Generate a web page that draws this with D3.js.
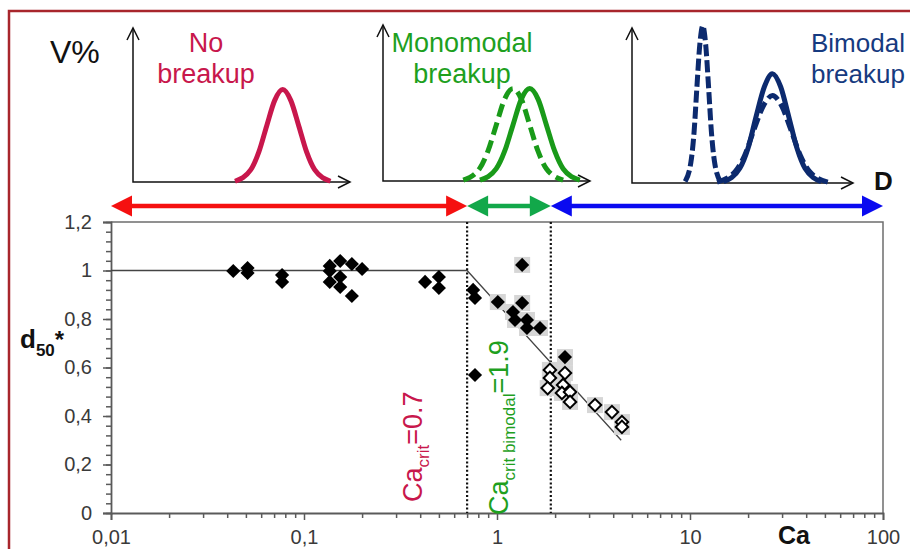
<!DOCTYPE html>
<html>
<head>
<meta charset="utf-8">
<script src="https://cdn.jsdelivr.net/npm/d3@7"></script>
<style>
  body { margin: 0; background: #fff; }
  svg { display: block; font-family: "Liberation Sans", Arial, sans-serif; }
</style>
</head>
<body>
<svg id="chart" width="910" height="549"></svg>
<script>
// ---- data ----
// no breakup, black filled diamonds [Ca, d50*]
const filledPlain = [
  [0.043, 0.998], [0.051, 1.01], [0.051, 0.99], [0.077, 0.981], [0.077, 0.953],
  [0.136, 1.019], [0.136, 0.998], [0.136, 0.953], [0.154, 1.039], [0.154, 0.973],
  [0.154, 0.932], [0.177, 1.027], [0.177, 0.895], [0.2, 1.006], [0.424, 0.953],
  [0.5, 0.973], [0.5, 0.928], [0.752, 0.92], [0.769, 0.887], [0.769, 0.569]
];
// monomodal breakup, filled with grey error box
const filledShaded = [
  [1.35, 1.023], [1.01, 0.870], [1.35, 0.866], [1.21, 0.829], [1.24, 0.796],
  [1.43, 0.796], [1.43, 0.763], [1.67, 0.763], [2.25, 0.643]
];
// bimodal breakup, open diamonds
const openShaded = [
  [1.88, 0.590], [1.88, 0.557], [1.83, 0.515], [2.25, 0.577], [2.2, 0.528],
  [2.17, 0.495], [2.39, 0.499], [2.39, 0.458], [3.22, 0.445], [3.94, 0.416],
  [4.44, 0.375], [4.44, 0.355]
];
const fitLine = [[0.01, 1], [0.7, 1], [4.4, 0.30]];
const critValues = [0.7, 1.9];
const regimes = [
  { from: 0.01, to: 0.7, color: "#f51010" },
  { from: 0.7, to: 1.9, color: "#12a84a" },
  { from: 1.9, to: 100, color: "#0a0af0" }
];
const yTicks = [0, 0.2, 0.4, 0.6, 0.8, 1, 1.2];
const xTicks = [0.01, 0.1, 1, 10, 100];

// schematic size distributions [D, V%] (arbitrary units 0..10)
const noBreakupCurve = [[4.7,0.05],[5.43,0.8],[5.8,1.95],[6.16,3.64],[6.53,5.3],[6.9,6.0],[7.27,5.3],[7.64,3.64],[8.0,1.95],[8.37,0.8],[9.1,0.05]];
const monoDashed = [[3.7,0.05],[4.45,0.8],[4.84,1.95],[5.22,3.64],[5.6,5.3],[5.99,6.0],[6.38,5.3],[6.76,3.64],[7.14,1.95],[7.53,0.8],[8.3,0.05]];
const monoSolid = [[4.47,0.05],[5.22,0.8],[5.61,1.95],[5.99,3.64],[6.37,5.3],[6.76,6.0],[7.15,5.3],[7.53,3.64],[7.91,1.95],[8.3,0.8],[9.07,0.05]];
const biNarrowDashed = [[2.45,0.1],[2.72,1.4],[2.86,3.3],[2.99,6.2],[3.125,9.0],[3.26,10.2],[3.395,9.0],[3.53,6.2],[3.66,3.3],[3.8,1.4],[4.07,0.1]];
const biSolid = [[4.22,0.08],[4.97,0.96],[5.35,2.27],[5.72,4.33],[6.1,6.25],[6.47,7.1],[6.85,6.25],[7.22,4.33],[7.6,2.27],[7.97,0.96],[8.72,0.08]];
const biDashed = [[3.92,0.06],[4.77,0.77],[5.2,1.82],[5.62,3.46],[6.05,5.0],[6.47,5.68],[6.9,5.0],[7.32,3.46],[7.75,1.82],[8.17,0.77],[9.02,0.06]];

const crimson = "#c8174c", green = "#1ea01e", navy = "#0c2a6e";

const svg = d3.select("#chart");

// outer frame (right and bottom edges fall outside the picture)
svg.append("rect").attr("x", 9).attr("y", 11).attr("width", 960).attr("height", 600)
  .attr("fill", "none").attr("stroke", "#a8262c").attr("stroke-width", 2.5);

// ---- mini distribution panels ----
const panels = [
  { x0: 133, x1: 350, top: 28, base: 182,
    curves: [{ data: noBreakupCurve, color: crimson, dash: null }] },
  { x0: 383, x1: 590, top: 25, base: 181,
    curves: [{ data: monoSolid, color: "#199a19", dash: null },
             { data: monoDashed, color: "#199a19", dash: "13,6" }] },
  { x0: 632, x1: 853, top: 28, base: 183,
    curves: [{ data: biSolid, color: navy, dash: null },
             { data: biDashed, color: navy, dash: "12,5" },
             { data: biNarrowDashed, color: navy, dash: "12,4" }] }
];

panels.forEach(p => {
  const dx = d3.scaleLinear().domain([0, 10]).range([p.x0, p.x0 + 217]);
  const vy = d3.scaleLinear().domain([0, 10]).range([p.base, p.base - 154]);
  const g = svg.append("g");
  g.append("path")
    .attr("d", `M${p.x0},${p.top} V${p.base} H${p.x1}`)
    .attr("fill", "none").attr("stroke", "#111").attr("stroke-width", 1.5);
  g.append("path")
    .attr("d", `M${p.x0 - 6},${p.top + 12} L${p.x0},${p.top} L${p.x0 + 6},${p.top + 12}`)
    .attr("fill", "none").attr("stroke", "#111").attr("stroke-width", 1.5);
  g.append("path")
    .attr("d", `M${p.x1 - 12},${p.base - 6} L${p.x1},${p.base} L${p.x1 - 12},${p.base + 6}`)
    .attr("fill", "none").attr("stroke", "#111").attr("stroke-width", 1.5);
  const line = d3.line().x(d => dx(d[0])).y(d => vy(d[1])).curve(d3.curveMonotoneX);
  p.curves.forEach(c => {
    g.append("path").attr("d", line(c.data))
      .attr("fill", "none").attr("stroke", c.color).attr("stroke-width", 5)
      .attr("stroke-linecap", "butt")
      .attr("stroke-dasharray", c.dash);
  });
});

// panel texts
svg.append("text").attr("x", 50).attr("y", 63).attr("font-size", 32).attr("fill", "#111").text("V%");
svg.append("text").attr("x", 206).attr("y", 52).attr("font-size", 27).attr("fill", crimson)
  .attr("text-anchor", "middle").text("No");
svg.append("text").attr("x", 206).attr("y", 83).attr("font-size", 27).attr("fill", crimson)
  .attr("text-anchor", "middle").text("breakup");
svg.append("text").attr("x", 462).attr("y", 52).attr("font-size", 27).attr("fill", green)
  .attr("text-anchor", "middle").text("Monomodal");
svg.append("text").attr("x", 462).attr("y", 83).attr("font-size", 27).attr("fill", green)
  .attr("text-anchor", "middle").text("breakup");
svg.append("text").attr("x", 811).attr("y", 52).attr("font-size", 26).attr("fill", "#163a80").text("Bimodal");
svg.append("text").attr("x", 811).attr("y", 83).attr("font-size", 26).attr("fill", "#163a80").text("breakup");
svg.append("text").attr("x", 874).attr("y", 190).attr("font-size", 26).attr("font-weight", "bold")
  .attr("fill", "#111").text("D");

// ---- main plot scales ----
const x = d3.scaleLog().domain([0.01, 100]).range([111, 883]);
const y = d3.scaleLinear().domain([0, 1.2]).range([513, 222]);

// regime arrows
regimes.forEach(r => {
  const a = x(r.from), b = x(r.to), yy = 206, L = 21, H = 10.5;
  svg.append("line").attr("x1", a + L - 2).attr("x2", b - L + 2).attr("y1", yy).attr("y2", yy)
    .attr("stroke", r.color).attr("stroke-width", 4.5);
  svg.append("path").attr("d", `M${a},${yy} L${a + L},${yy - H} L${a + L},${yy + H} Z`).attr("fill", r.color);
  svg.append("path").attr("d", `M${b},${yy} L${b - L},${yy - H} L${b - L},${yy + H} Z`).attr("fill", r.color);
});

// plot frame (top and right)
svg.append("path").attr("d", `M${x(0.01)},${y(1.2)} H${x(100)} V${y(0)}`)
  .attr("fill", "none").attr("stroke", "#6e6e6e").attr("stroke-width", 1.5);

// axes
const fmt = d => String(+d.toFixed(2)).replace(".", ",");
const axisColor = "#5a5a5a";

const yMinor = d3.range(0, 1.2001, 0.04);
svg.append("g").attr("transform", `translate(${x(0.01)},0)`)
  .call(d3.axisLeft(y).tickValues(yMinor).tickSize(5).tickFormat(""))
  .call(g => g.select(".domain").remove());
svg.append("g").attr("transform", `translate(${x(0.01)},0)`)
  .call(d3.axisLeft(y).tickValues(yTicks).tickSize(8).tickPadding(11).tickFormat(fmt));

const xMinor = [];
[0.01, 0.1, 1, 10].forEach(dec => { for (let k = 2; k <= 9; k++) xMinor.push(dec * k); });
svg.append("g").attr("transform", `translate(0,${y(0)})`)
  .call(d3.axisBottom(x).tickValues(xMinor).tickSize(5).tickFormat(""))
  .call(g => g.select(".domain").remove());
svg.append("g").attr("transform", `translate(0,${y(0)})`)
  .call(d3.axisBottom(x).tickValues(xTicks).tickSize(7).tickPadding(10).tickFormat(fmt));

svg.selectAll(".tick line").attr("stroke", axisColor).attr("stroke-width", 1.5);
svg.selectAll(".domain").attr("stroke", axisColor).attr("stroke-width", 1.8);
svg.selectAll(".tick text").attr("font-size", 20).attr("fill", "#3a3a3a")
  .attr("font-family", "'Liberation Sans', Arial, sans-serif");

// axis titles
const yt = svg.append("text").attr("x", 20).attr("y", 348).attr("font-weight", "bold").attr("fill", "#111");
yt.append("tspan").attr("font-size", 26).text("d");
yt.append("tspan").attr("font-size", 17).attr("dy", 8).text("50");
yt.append("tspan").attr("font-size", 24).attr("dy", -8).text("*");
svg.append("text").attr("x", 794).attr("y", 544).attr("text-anchor", "middle")
  .attr("font-size", 25).attr("font-weight", "bold").attr("fill", "#111").text("Ca");

// critical Ca dotted lines
svg.selectAll(".crit").data(critValues).join("line").attr("class", "crit")
  .attr("x1", d => x(d)).attr("x2", d => x(d)).attr("y1", y(1.2)).attr("y2", y(0))
  .attr("stroke", "#111").attr("stroke-width", 2.2).attr("stroke-dasharray", "2,2.2");

// fit line
svg.append("path").attr("d", d3.line().x(d => x(d[0])).y(d => y(d[1]))(fitLine))
  .attr("fill", "none").attr("stroke", "#444").attr("stroke-width", 1.3);

// grey error boxes
svg.selectAll(".shade").data(filledShaded.concat(openShaded)).join("rect").attr("class", "shade")
  .attr("x", d => x(d[0]) - 8).attr("y", d => y(d[1]) - 8).attr("width", 16).attr("height", 16)
  .attr("fill", "#d6d6d6");

const diamond = d3.symbol(d3.symbolSquare, 100);
svg.selectAll(".filled").data(filledPlain.concat(filledShaded)).join("path").attr("class", "filled")
  .attr("d", diamond)
  .attr("transform", d => `translate(${x(d[0])},${y(d[1])}) rotate(45)`)
  .attr("fill", "#000");

const openDiamond = d3.symbol(d3.symbolSquare, 78);
svg.selectAll(".open").data(openShaded).join("path").attr("class", "open")
  .attr("d", openDiamond)
  .attr("transform", d => `translate(${x(d[0])},${y(d[1])}) rotate(45)`)
  .attr("fill", "#fff").attr("stroke", "#000").attr("stroke-width", 2);

// rotated critical labels
function critLabel(px, py, sub, val, color) {
  const t = svg.append("text").attr("transform", `translate(${px},${py}) rotate(-90)`)
    .attr("fill", color).attr("font-size", 27);
  t.append("tspan").text("Ca");
  t.append("tspan").attr("font-size", 17).attr("dy", 7).text(sub);
  t.append("tspan").attr("dy", -7).text("=" + val);
}
critLabel(422, 502, "crit", "0.7", crimson);
critLabel(508, 515, "crit bimodal", "1.9", green);
</script>
</body>
</html>
